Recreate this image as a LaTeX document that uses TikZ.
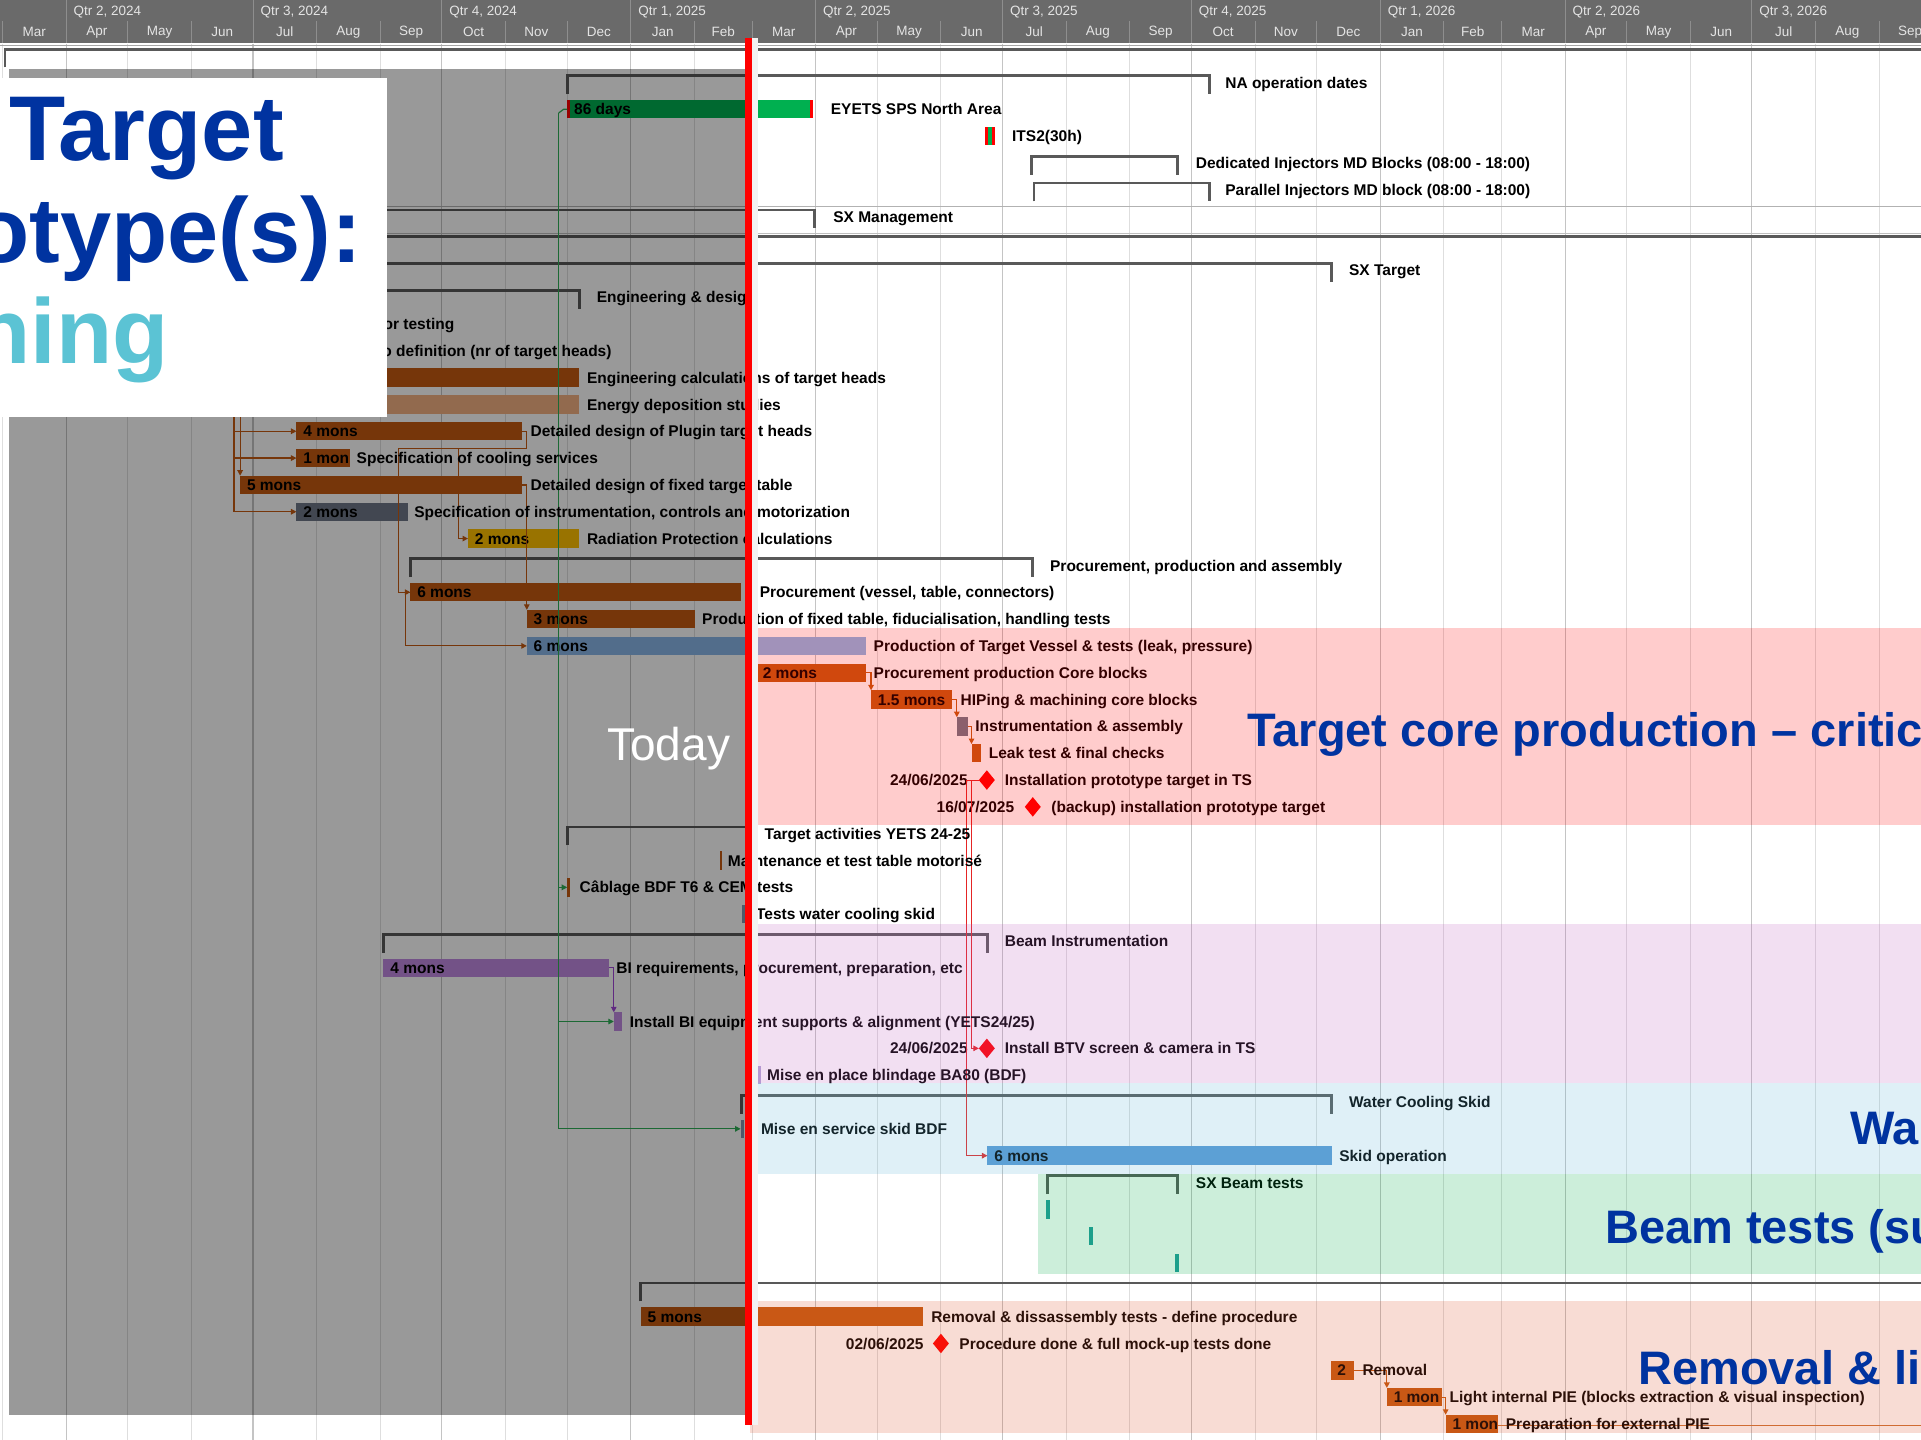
\documentclass[tikz,border=0pt]{standalone}
\usepackage{fontspec}
\setmainfont{Liberation Sans}
\usetikzlibrary{arrows.meta,shapes.geometric}
\definecolor{hdrbg}{HTML}{6A6A6A}
\definecolor{hdrsep}{HTML}{8E8E8E}
\definecolor{hdrtxt}{HTML}{E4E4E4}
\definecolor{gridm}{HTML}{DEDEDE}
\definecolor{gridq}{HTML}{C4C4C4}
\definecolor{sumc}{HTML}{595959}
\definecolor{orng}{HTML}{C55A11}
\definecolor{tanbar}{HTML}{F4B183}
\definecolor{slatebar}{HTML}{6E7787}
\definecolor{goldbar}{HTML}{FFC000}
\definecolor{ltblue}{HTML}{8AB7E9}
\definecolor{skidbar}{HTML}{5B9BD5}
\definecolor{bipurp}{HTML}{C08AE1}
\definecolor{nagreen}{HTML}{00B050}
\definecolor{lnkgreen}{HTML}{2FB057}
\definecolor{lnkpurp}{HTML}{A045D8}
\definecolor{lnkred}{HTML}{E52525}
\definecolor{tealc}{HTML}{259D9D}
\definecolor{tinybl}{HTML}{8496B0}
\definecolor{tinylav}{HTML}{B4A7D6}
\definecolor{ttlblue}{RGB}{0,51,160}
\definecolor{ttlcyan}{RGB}{91,195,212}
\definecolor{bpink}{HTML}{FF0000}
\definecolor{bpurp}{HTML}{C060C0}
\definecolor{bcyan}{HTML}{60B8D8}
\definecolor{bgreen}{HTML}{00AA46}
\definecolor{bsalm}{HTML}{DC5028}
\newcommand\rowy[1]{67.3+21.9*#1}
\newcommand\lbl{\fontsize{15.5}{17}\selectfont\bfseries}
\newcommand\gbar[6]{%
  \node[gbar,fill=#5,minimum width={(#3-#2)*1.2251pt}] (#1) at (#2,\rowy{#4}) {};
  \node[btxt] (#1t) at ([xshift=6.7pt]#1.west) {#6};}
\newcommand\sumbr[3]{% x1, x2, row
  \draw[sumline] (#1,\rowy{#3}+9.5) -- (#1,\rowy{#3}-5.5) -- (#2,\rowy{#3}-5.5) -- (#2,\rowy{#3}+9.5);}
\begin{document}
\begin{tikzpicture}[x=1.2251pt,y=-1.2251pt,
  lab/.style={anchor=base west,inner sep=0,font=\lbl,yshift=-5.6pt},
  dat/.style={anchor=base east,inner sep=0,font=\lbl,yshift=-5.6pt},
  btxt/.style={anchor=base west,inner sep=0,font=\lbl,yshift=-5.6pt},
  gbar/.style={rectangle,anchor=west,inner sep=0,outer sep=0,minimum height=18.4pt,draw=none},
  ms/.style={diamond,fill=red,inner sep=0,outer sep=0,minimum width=16pt,minimum height=19.5pt,draw=none},
  sumline/.style={draw=sumc,line width=2.6pt},
  arr/.style={-{Triangle[length=5.5pt,width=5.5pt]}},
  lnkb/.style={draw=orng,line width=1.2pt,arr},
  lnkg/.style={draw=lnkgreen,line width=1.2pt,arr},
  lnkp/.style={draw=lnkpurp,line width=1.2pt,arr},
  lnkr/.style={draw=lnkred,line width=1pt,arr},
  hq/.style={anchor=west,inner sep=0,font=\fontsize{13.5}{15}\selectfont,text=hdrtxt},
  hm/.style={anchor=center,inner sep=0,font=\fontsize{13.5}{15}\selectfont,text=hdrtxt},
  big/.style={anchor=base west,inner sep=0,font=\fontsize{47}{52}\selectfont\bfseries,text=ttlblue},
  huge/.style={anchor=base west,inner sep=0,font=\fontsize{92}{100}\selectfont\bfseries}]
\useasboundingbox (0,0) rectangle (1568,1175);
\clip (0,0) rectangle (1568,1175);
\fill[white] (0,0) rectangle (1568,1175);
% body grid
\foreach \d in {-31,0,30,61,91,122,153,183,214,244,275,306,334,365,395,426,456,487,518,548,579,609,640,671,699,730,760,791,821,852,883}
  \draw[gridm,line width=0.9pt] ({54+1.676*\d},36) -- ({54+1.676*\d},1175);
\foreach \d in {0,91,183,275,365,456,548,640,730,821}
  \draw[gridq,line width=1.1pt] ({54+1.676*\d},36) -- ({54+1.676*\d},1175);
% header
\fill[hdrbg] (0,0) rectangle (1568,35.5);
\foreach \d in {-31,0,30,61,91,122,153,183,214,244,275,306,334,365,395,426,456,487,518,548,579,609,640,671,699,730,760,791,821,852,883}
  \draw[hdrsep,line width=0.9pt] ({54+1.676*\d},17) -- ({54+1.676*\d},35.5);
\foreach \d in {0,91,183,275,365,456,548,640,730,821}
  \draw[hdrsep,line width=0.9pt] ({54+1.676*\d},0) -- ({54+1.676*\d},35.5);
\foreach \d/\t [count=\k] in {0/{Qtr 2, 2024},91/{Qtr 3, 2024},183/{Qtr 4, 2024},275/{Qtr 1, 2025},365/{Qtr 2, 2025},456/{Qtr 3, 2025},548/{Qtr 4, 2025},640/{Qtr 1, 2026},730/{Qtr 2, 2026},821/{Qtr 3, 2026}}
  \node[hq] (q\k) at ({60+1.676*\d},9.5) {\t};
\foreach \a/\b/\m [count=\k] in {-31/0/Mar,0/30/Apr,30/61/May,61/91/Jun,91/122/Jul,122/153/Aug,153/183/Sep,183/214/Oct,214/244/Nov,244/275/Dec,275/306/Jan,306/334/Feb,334/365/Mar,365/395/Apr,395/426/May,426/456/Jun,456/487/Jul,487/518/Aug,518/548/Sep,548/579/Oct,579/609/Nov,609/640/Dec,640/671/Jan,671/699/Feb,699/730/Mar,730/760/Apr,760/791/May,791/821/Jun,821/852/Jul,852/883/Aug,883/913/Sep}
  \node[hm] (mo\k) at ({54+1.676*(\a+\b)/2},26) {\m};
\draw[black!35,line width=1.2pt] (0,37) -- (1568,37);
\draw[sumline] (4,55) -- (4,40.5) -- (1580,40.5);
% section lines
\draw[black!30,line width=1pt] (0,168.5) -- (1568,168.5);
\draw[black!25,line width=1pt] (0,190.3) -- (1568,190.3);
\draw[sumline] (-5,\rowy{6}-5.5) -- (1580,\rowy{6}-5.5);
% summary brackets
\sumbr{463}{987}{0}
\sumbr{842}{961}{3}
\sumbr{844}{987}{4}
\sumbr{-10}{665}{5}
\sumbr{-10}{1087}{7}
\sumbr{-10}{473}{8}
\sumbr{335}{843}{18}
\sumbr{463}{611}{28}
\sumbr{313}{806}{32}
\sumbr{605}{1087}{38}
\sumbr{855}{961}{41}
\sumbr{523}{1590}{45}
% bars
\gbar{b1}{463}{664}{1}{nagreen}{86 days}
\fill[red] (b1.north west) rectangle ++(2.5,15);
\fill[red] (b1.north east) rectangle ++(-3,15);
\gbar{b2}{804}{812}{2}{red}{}
\fill[nagreen] (806.5,\rowy{2}-7.5) rectangle (809.5,\rowy{2}+7.5);
\gbar{b11}{200}{473}{11}{orng}{}
\gbar{b12}{200}{473}{12}{tanbar}{}
\gbar{b13}{242}{426}{13}{orng}{4 mons}
\gbar{b14}{242}{286}{14}{orng}{1 mon}
\gbar{b15}{196}{426}{15}{orng}{5 mons}
\gbar{b16}{242}{333}{16}{slatebar}{2 mons}
\gbar{b17}{382}{473}{17}{goldbar}{2 mons}
\gbar{b19}{335}{605}{19}{orng}{6 mons}
\gbar{b20}{430}{567}{20}{orng}{3 mons}
\gbar{b21}{430}{707}{21}{ltblue}{6 mons}
\gbar{b22}{617}{707}{22}{orng}{2 mons}
\gbar{b23}{711}{777}{23}{orng}{1.5 mons}
\gbar{b24}{781}{790}{24}{slatebar}{}
\gbar{b25}{793}{801}{25}{orng}{}
\gbar{b29}{587.3}{589.5}{29}{orng}{}
\gbar{b30}{463}{465.2}{30}{orng}{}
\gbar{b31}{606}{609}{31}{tinybl}{}
\gbar{b33}{313}{497}{33}{bipurp}{4 mons}
\gbar{b35}{501}{508}{35}{bipurp}{}
\gbar{b37}{619}{621}{37}{tinylav}{}
\gbar{b39}{604.5}{607}{39}{tinybl}{}
\gbar{b40}{806}{1087}{40}{skidbar}{6 mons}
\gbar{b42}{854}{857}{42}{tealc}{}
\gbar{b43}{889}{892}{43}{tealc}{}
\gbar{b44}{959}{962}{44}{tealc}{}
\gbar{b46}{523}{753}{46}{orng}{5 mons}
\gbar{b48}{1086}{1105}{48}{orng}{2}
\gbar{b49}{1132}{1177}{49}{orng}{1 mon}
\gbar{b50}{1180}{1223}{50}{orng}{1 mon}
\draw[orng!85,line width=1.6pt] (b50.east) ++(0,1.2) -- ++(400,0);
% milestones
\node[ms] (m26) at (805.5,\rowy{26}) {};
\node[ms] (m27) at (843,\rowy{27}) {};
\node[ms] (m36) at (805.5,\rowy{36}) {};
\node[ms] (m47) at (768,\rowy{47}) {};
\node[dat] (d26) at (790,\rowy{26}) {24/06/2025};
\node[dat] (d27) at (828,\rowy{27}) {16/07/2025};
\node[dat] (d36) at (790,\rowy{36}) {24/06/2025};
\node[dat] (d47) at (754,\rowy{47}) {02/06/2025};
% links
\coordinate (bv1) at (191,335);
\coordinate (bv2) at (196,335);
\draw[lnkb] (bv1) |- (b13.west);
\draw[lnkb] (bv1) |- (b14.west);
\draw[lnkb] (bv1) |- (b16.west);
\draw[lnkb] (bv2) -- (b15.north west);
\coordinate (pj) at (430,366);
\coordinate (pj2) at (374,366);
\draw[lnkb] (b13.east) -| (pj) -- (325,366) |- (b19.west);
\draw[lnkb] (pj2) |- (b17.west);
\draw[lnkb] (b15.east) -| (b20.north west);
\draw[lnkb] (b19.west) -- ++(-4,0) |- (b21.west);
\draw[lnkb] (b22.east) -| (b23.north west);
\draw[lnkb] (b23.east) -| (b24.north west);
\draw[lnkb] (b24.east) -| (b25.north west);
\draw[lnkp] (b33.east) -| (b35.north west);
\coordinate (gtop) at (456,\rowy{1}+3);
\draw[draw=lnkgreen,line width=1.2pt] (b1.west) -- ++(-3,0) -- (gtop);
\draw[lnkg] (gtop) |- (b30.west);
\draw[lnkg] (gtop) |- (b35.west);
\draw[lnkg] (gtop) |- (b39.west);
\draw[lnkr] (m26.west) -- (793,\rowy{26}) |- (m36.west);
\draw[lnkr] (m26.west) -- (789,\rowy{26}) |- (b40.west);
\draw[lnkb] (b48.east) -| (b49.north west);
\draw[lnkb] (b49.east) -| (b50.north west);
% labels
\node[lab] (l0) at (1000,\rowy{0}) {NA operation dates};
\node[lab] (l1) at (678,\rowy{1}) {EYETS SPS North Area};
\node[lab] (l2) at (826,\rowy{2}) {ITS2(30h)};
\node[lab] (l3) at (976,\rowy{3}) {Dedicated Injectors MD Blocks (08:00 - 18:00)};
\node[lab] (l4) at (1000,\rowy{4}) {Parallel Injectors MD block (08:00 - 18:00)};
\node[lab] (l5) at (680,\rowy{5}) {SX Management};
\node[lab] (l7) at (1101,\rowy{7}) {SX Target};
\node[lab] (l8) at (487,\rowy{8}) {Engineering \& design};
\node[lab] (l9) at (313,\rowy{9}) {or testing};
\node[lab] (l10) at (312,\rowy{10}) {o definition (nr of target heads)};
\node[lab] (l11) at (479,\rowy{11}) {Engineering calculations of target heads};
\node[lab] (l12) at (479,\rowy{12}) {Energy deposition studies};
\node[lab] (l13) at (433,\rowy{13}) {Detailed design of Plugin target heads};
\node[lab] (l14) at (291,\rowy{14}) {Specification of cooling services};
\node[lab] (l15) at (433,\rowy{15}) {Detailed design of fixed target table};
\node[lab] (l16) at (338,\rowy{16}) {Specification of instrumentation, controls and motorization};
\node[lab] (l17) at (479,\rowy{17}) {Radiation Protection calculations};
\node[lab] (l18) at (857,\rowy{18}) {Procurement, production and assembly};
\node[lab] (l19) at (620,\rowy{19}) {Procurement (vessel, table, connectors)};
\node[lab] (l20) at (573,\rowy{20}) {Production of fixed table, fiducialisation, handling tests};
\node[lab] (l21) at (713,\rowy{21}) {Production of Target Vessel \& tests (leak, pressure)};
\node[lab] (l22) at (713,\rowy{22}) {Procurement production Core blocks};
\node[lab] (l23) at (784,\rowy{23}) {HIPing \& machining core blocks};
\node[lab] (l24) at (796,\rowy{24}) {Instrumentation \& assembly};
\node[lab] (l25) at (807,\rowy{25}) {Leak test \& final checks};
\node[lab] (l26) at (820,\rowy{26}) {Installation prototype target in TS};
\node[lab] (l27) at (858,\rowy{27}) {(backup) installation prototype target};
\node[lab] (l28) at (624,\rowy{28}) {Target activities YETS 24-25};
\node[lab] (l29) at (594,\rowy{29}) {Maintenance et test table motorisé};
\node[lab] (l30) at (473,\rowy{30}) {Câblage BDF T6 \& CEM tests};
\node[lab] (l31) at (617,\rowy{31}) {Tests water cooling skid};
\node[lab] (l32) at (820,\rowy{32}) {Beam Instrumentation};
\node[lab] (l33) at (503,\rowy{33}) {BI requirements, procurement, preparation, etc};
\node[lab] (l35) at (514,\rowy{35}) {Install BI equipment supports \& alignment (YETS24/25)};
\node[lab] (l36) at (820,\rowy{36}) {Install BTV screen \& camera in TS};
\node[lab] (l37) at (626,\rowy{37}) {Mise en place blindage BA80 (BDF)};
\node[lab] (l38) at (1101,\rowy{38}) {Water Cooling Skid};
\node[lab] (l39) at (621,\rowy{39}) {Mise en service skid BDF};
\node[lab] (l40) at (1093,\rowy{40}) {Skid operation};
\node[lab] (l41) at (976,\rowy{41}) {SX Beam tests};
\node[lab] (l46) at (760,\rowy{46}) {Removal \& dissassembly tests - define procedure};
\node[lab] (l47) at (783,\rowy{47}) {Procedure done \& full mock-up tests done};
\node[lab] (l48) at (1112,\rowy{48}) {Removal};
\node[lab] (l49) at (1183,\rowy{49}) {Light internal PIE (blocks extraction \& visual inspection)};
\node[lab] (l50) at (1229,\rowy{50}) {Preparation for external PIE};
% colour bands (overlays)
\fill[bpink,opacity=0.2] (612,513) rectangle (1568,673);
\fill[bpurp,opacity=0.2] (612,754) rectangle (1568,884);
\fill[bcyan,opacity=0.2] (612,884) rectangle (1568,958);
\fill[bgreen,opacity=0.2] (847,958) rectangle (1568,1040);
\fill[bsalm,opacity=0.2] (612,1062) rectangle (1568,1170);
% past overlay
\fill[black,opacity=0.4] (7,56) rectangle (608,1155);
% today line
\fill[black!5] (613.5,31) rectangle (618.5,1163);
\fill[red] (608.5,31) rectangle (613.5,1163);
\node[anchor=base east,inner sep=0,text=white,font=\fontsize{46}{50}\selectfont] (today) at (596,621) {Today};
% title box
\fill[white] (0,64) rectangle (316,340);
\node[huge,text=ttlblue] (t1) at (7.5,131) {Target};
\node[huge,text=ttlblue] (t2) at (-22,214) {otype(s):};
\node[huge,text=ttlcyan] (t3) at (-21,297) {ning};
% annotations
\node[big] (a1) at (1018,609) {Target core production – critic};
\node[big] (a2) at (1510,934) {Wa};
\node[big] (a3) at (1310,1015) {Beam tests (su};
\node[big] (a4) at (1337,1130) {Removal \& li};
\end{tikzpicture}
\end{document}
